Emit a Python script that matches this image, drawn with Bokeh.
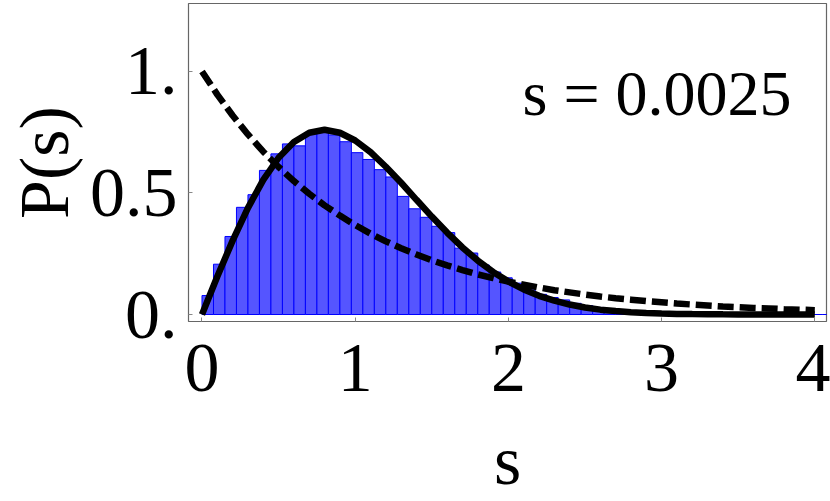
import numpy as np
from bokeh.plotting import figure
from bokeh.models import Range1d, FixedTicker, Label
from bokeh.embed import file_html
from bokeh.resources import INLINE

# ---- data ----
bin_width = 0.075
hist_heights = [0.078, 0.207, 0.321, 0.441, 0.493, 0.593, 0.661, 0.702, 0.694, 0.745,
                0.750, 0.739, 0.711, 0.666, 0.638, 0.596, 0.566, 0.486, 0.435, 0.400,
                0.363, 0.337, 0.273, 0.253, 0.204, 0.175, 0.151, 0.129, 0.110, 0.083,
                0.070, 0.060, 0.046, 0.037, 0.029, 0.024, 0.020, 0.015, 0.012, 0.010,
                0.008, 0.006, 0.005, 0.004, 0.003, 0.002, 0.002, 0.001, 0.001, 0.001,
                0.0, 0.0, 0.0, 0.0, 0.0, 0.0, 0.0]

curve_s = [0.0, 0.1, 0.2, 0.3, 0.4, 0.5, 0.6, 0.7, 0.8, 0.9, 1.0, 1.1, 1.2, 1.3, 1.4,
           1.5, 1.6, 1.7, 1.8, 1.9, 2.0, 2.1, 2.2, 2.3, 2.4, 2.5, 2.6, 2.7, 2.8, 2.9,
           3.0, 3.1, 3.2, 3.3, 3.4, 3.5, 3.6, 3.7, 3.8, 3.9, 4.0]
solid_curve = [0.0, 0.156, 0.304, 0.439, 0.554, 0.645, 0.710, 0.748, 0.760, 0.748,
               0.716, 0.668, 0.608, 0.542, 0.472, 0.403, 0.337, 0.276, 0.222, 0.175,
               0.136, 0.103, 0.077, 0.057, 0.041, 0.029, 0.020, 0.014, 0.009, 0.006,
               0.004, 0.0025, 0.0016, 0.0010, 0.0006, 0.0004, 0.0002, 0.0001, 0.0001,
               0.0, 0.0]
dashed_curve = [1.0, 0.905, 0.819, 0.741, 0.670, 0.607, 0.549, 0.497, 0.449, 0.407,
                0.368, 0.333, 0.301, 0.273, 0.247, 0.223, 0.202, 0.183, 0.165, 0.150,
                0.135, 0.123, 0.111, 0.100, 0.091, 0.082, 0.074, 0.067, 0.061, 0.055,
                0.050, 0.045, 0.041, 0.037, 0.033, 0.030, 0.027, 0.025, 0.022, 0.020,
                0.018]

x_ticks = [0, 1, 2, 3, 4]
y_ticks = [0, 0.5, 1]
y_tick_labels = ["0.", "0.5", "1."]
x_title = "s"
y_title = "P(s)"
annotation = "s = 0.0025"

FONT = "Liberation Serif"

p = figure(width=830, height=501, output_backend="svg", toolbar_location=None,
           x_range=Range1d(-0.0881, 4.0764), y_range=Range1d(-0.0288, 1.2798),
           min_border_left=188, min_border_right=4, min_border_top=3,
           min_border_bottom=180)
p.grid.visible = False
p.outline_line_color = "#666666"
p.outline_line_width = 1.2

left = np.arange(len(hist_heights)) * bin_width
p.quad(left=left, right=left + bin_width, bottom=0, top=hist_heights,
       fill_color="#5555ff", line_color="#0000ff", line_width=1)

p.line(curve_s, dashed_curve, line_color="black", line_width=6.5, line_dash="16 6")
p.line(curve_s, solid_curve, line_color="black", line_width=6.5)

p.add_layout(Label(x=2.092, y=0.909, text=annotation, text_font=FONT,
                   text_font_size="64px", text_color="black",
                   text_baseline="alphabetic", text_align="left"))

for ax in (p.xaxis[0], p.yaxis[0]):
    ax.axis_line_color = None
    ax.major_tick_in = 4
    ax.major_tick_out = 0
    ax.major_tick_line_color = "#888888"
    ax.major_tick_line_width = 1
    ax.minor_tick_line_color = None
    ax.major_label_text_font = FONT
    ax.major_label_text_font_size = "70px"
    ax.major_label_text_color = "black"
    ax.axis_label_text_font = FONT
    ax.axis_label_text_font_size = "70px"
    ax.axis_label_text_font_style = "normal"
    ax.axis_label_text_color = "black"

p.xaxis.ticker = FixedTicker(ticks=x_ticks)
p.yaxis.ticker = FixedTicker(ticks=y_ticks)
p.yaxis.major_label_overrides = {t: l for t, l in zip(y_ticks, y_tick_labels)}
p.xaxis.axis_label = x_title
p.yaxis.axis_label = y_title
p.xaxis.major_label_standoff = 23
p.xaxis.axis_label_standoff = 28
p.yaxis.major_label_standoff = 11
p.yaxis.axis_label_standoff = 4

open("out.html", "w").write(file_html(p, INLINE))
